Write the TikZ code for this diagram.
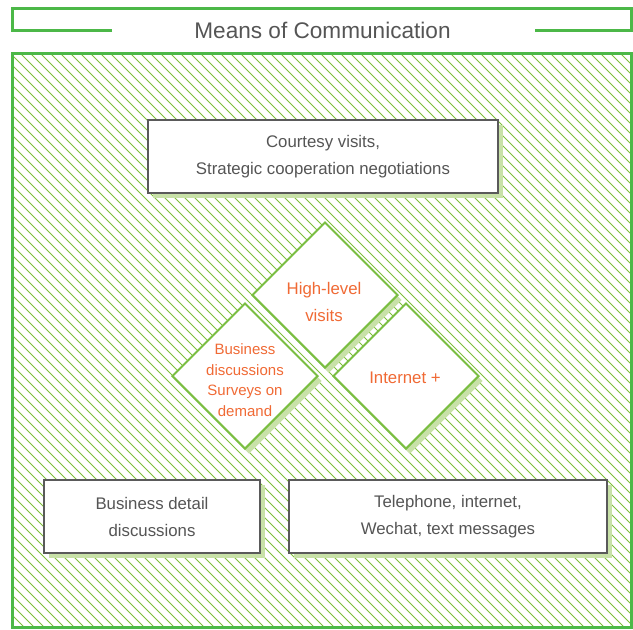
\documentclass[tikz,border=0pt]{standalone}
\usepackage{fontspec}
\setmainfont{Liberation Sans}
\usepackage{tikz}
\usetikzlibrary{shapes.geometric, shadows}
\definecolor{framegreen}{RGB}{76,184,72}
\definecolor{hatchgreen}{RGB}{125,192,55}
\definecolor{shadegreen}{RGB}{200,225,168}
\definecolor{edgegreen}{RGB}{122,190,66}
\definecolor{boxgray}{RGB}{90,90,90}
\definecolor{textgray}{RGB}{85,85,85}
\definecolor{accent}{RGB}{240,106,53}

\begin{document}
\begin{tikzpicture}[x=1pt, y=-1pt]
\tikzstyle{frame}=[draw=framegreen, line width=3pt]
\tikzstyle{hatch}=[draw=hatchgreen, line width=1pt]
\tikzstyle{infobox}=[rectangle, draw=boxgray, fill=white, line width=1.2pt,
  align=center, text=textgray, minimum height=73pt, inner sep=0pt,
  font=\fontsize{16.8}{27}\selectfont,
  drop shadow={shadow xshift=5pt, shadow yshift=-5pt, fill=shadegreen, opacity=1}]
\tikzstyle{tile}=[diamond, aspect=1, draw=edgegreen, fill=white, line width=2pt,
  minimum width=146pt, minimum height=146pt, inner sep=0pt,
  drop shadow={shadow xshift=4pt, shadow yshift=-5pt, fill=shadegreen, opacity=1}]
\tikzstyle{tiletext}=[align=center, text=accent, inner sep=0pt]

\useasboundingbox (0,0) rectangle (633,630);

% heading
\draw[frame] (112,30) -- (12.5,30) -- (12.5,8) -- (631.5,8) -- (631.5,30) -- (535,30);
\node (title) at (322.5,30.5) [text=textgray, font=\fontsize{22.6}{26}\selectfont]
  {Means of Communication};

% hatched field
\begin{scope}
\clip (12.5,53) rectangle (631.5,627);
\foreach \x in {-620,-610,...,630}
  \draw[hatch] (\x,53) -- ++(580,580);
\end{scope}
\draw[frame] (12.5,53) rectangle (631.5,627);

% boxes
\node (courtesy) at (323,156.5) [infobox, minimum width=350pt]
  {Courtesy visits,\\Strategic cooperation negotiations};
\node (detail) at (152,516.5) [infobox, minimum width=216pt]
  {Business detail\\discussions};
\node (phone) at (448,516.5) [infobox, minimum width=318pt]
  {Telephone, internet,\\Wechat, text messages};

% diamonds
\node (visits) at (325,295) [tile] {};
\node (demand) at (245,376) [tile] {};
\node (web) at (406,376) [tile] {};

\node (visits-txt) at (324,301.5) [tiletext, font=\fontsize{16.8}{27}\selectfont]
  {High-level\\visits};
\node (demand-txt) at (245,380) [tiletext, font=\fontsize{15}{20.5}\selectfont]
  {Business\\discussions\\Surveys on\\demand};
\node (web-txt) at (405,378) [tiletext, font=\fontsize{16.8}{27}\selectfont]
  {Internet +};
\end{tikzpicture}
\end{document}
